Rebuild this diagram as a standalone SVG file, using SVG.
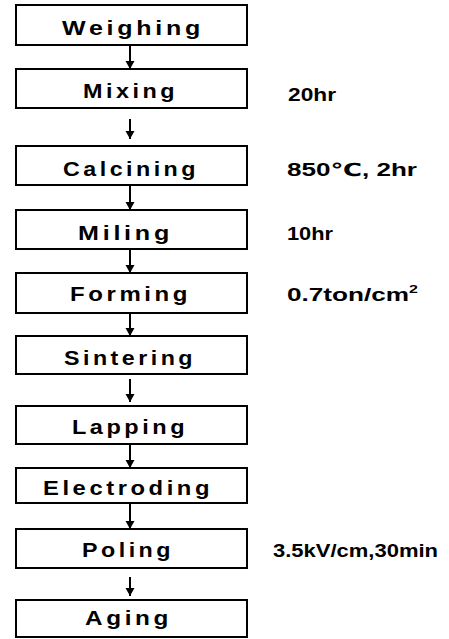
<svg xmlns="http://www.w3.org/2000/svg" width="449" height="639" viewBox="0 0 449 639">
<style>
.box{fill:#fff;stroke:#000;stroke-width:2}
.lbl{font-family:"Liberation Sans",Arial,sans-serif;font-weight:bold;font-size:20px;letter-spacing:3px;fill:#000}
.cond{font-family:"Liberation Sans","DejaVu Sans",Arial,sans-serif;font-weight:bold;font-size:18px;fill:#000}
.arr{stroke:#000;stroke-width:2;fill:none;marker-end:url(#ah)}
</style>
<defs>
<marker id="ah" markerUnits="userSpaceOnUse" markerWidth="10" markerHeight="10" refX="8" refY="5" orient="auto">
<path d="M0,0.5 L8,5 L0,9.5 Z" fill="#000"/>
</marker>
</defs>
<rect width="449" height="639" fill="#fff"/>
<g id="connectors">
<line class="arr" x1="130" y1="45" x2="130" y2="69"/>
<line class="arr" x1="130" y1="119" x2="130" y2="139"/>
<line class="arr" x1="130" y1="185" x2="130" y2="210"/>
<line class="arr" x1="130" y1="249" x2="130" y2="273"/>
<line class="arr" x1="130" y1="313" x2="130" y2="336"/>
<line class="arr" x1="130" y1="379" x2="130" y2="402"/>
<line class="arr" x1="130" y1="444" x2="130" y2="468"/>
<line class="arr" x1="130" y1="503" x2="130" y2="529"/>
<line class="arr" x1="130" y1="577" x2="130" y2="596"/>
</g>
<g id="weighing"><rect class="box" x="16" y="5" width="231" height="40"/><text class="lbl" x="62" y="35" textLength="142" lengthAdjust="spacingAndGlyphs">Weighing</text></g>
<g id="mixing"><rect class="box" x="16" y="69" width="231" height="39"/><text class="lbl" x="83" y="98" textLength="95" lengthAdjust="spacingAndGlyphs">Mixing</text></g>
<g id="calcining"><rect class="box" x="16" y="146" width="231" height="39"/><text class="lbl" x="63" y="176" textLength="136" lengthAdjust="spacingAndGlyphs">Calcining</text></g>
<g id="miling"><rect class="box" x="16" y="210" width="231" height="39"/><text class="lbl" x="78" y="240" textLength="95" lengthAdjust="spacingAndGlyphs">Miling</text></g>
<g id="forming"><rect class="box" x="16" y="273" width="231" height="40"/><text class="lbl" x="70" y="301" textLength="121" lengthAdjust="spacingAndGlyphs">Forming</text></g>
<g id="sintering"><rect class="box" x="16" y="336" width="231" height="38"/><text class="lbl" x="64" y="365" textLength="132" lengthAdjust="spacingAndGlyphs">Sintering</text></g>
<g id="lapping"><rect class="box" x="16" y="406" width="231" height="38"/><text class="lbl" x="72" y="434" textLength="116" lengthAdjust="spacingAndGlyphs">Lapping</text></g>
<g id="electroding"><rect class="box" x="16" y="468" width="231" height="35"/><text class="lbl" x="43" y="495" textLength="170" lengthAdjust="spacingAndGlyphs">Electroding</text></g>
<g id="poling"><rect class="box" x="16" y="529" width="231" height="39"/><text class="lbl" x="82" y="557" textLength="92" lengthAdjust="spacingAndGlyphs">Poling</text></g>
<g id="aging"><rect class="box" x="16" y="600" width="231" height="37"/><text class="lbl" x="85" y="625" textLength="87" lengthAdjust="spacingAndGlyphs">Aging</text></g>
<g id="params">
<text class="cond" x="288" y="101" textLength="48" lengthAdjust="spacingAndGlyphs">20hr</text>
<text class="cond" x="287" y="176" textLength="130" lengthAdjust="spacingAndGlyphs">850℃, 2hr</text>
<text class="cond" x="287" y="240" textLength="46" lengthAdjust="spacingAndGlyphs">10hr</text>
<text class="cond" x="287" y="301" textLength="131" lengthAdjust="spacingAndGlyphs">0.7ton/cm<tspan font-size="11" dy="-8">2</tspan></text>
<text class="cond" x="273" y="557" textLength="165" lengthAdjust="spacingAndGlyphs">3.5kV/cm,30min</text>
</g>
</svg>
